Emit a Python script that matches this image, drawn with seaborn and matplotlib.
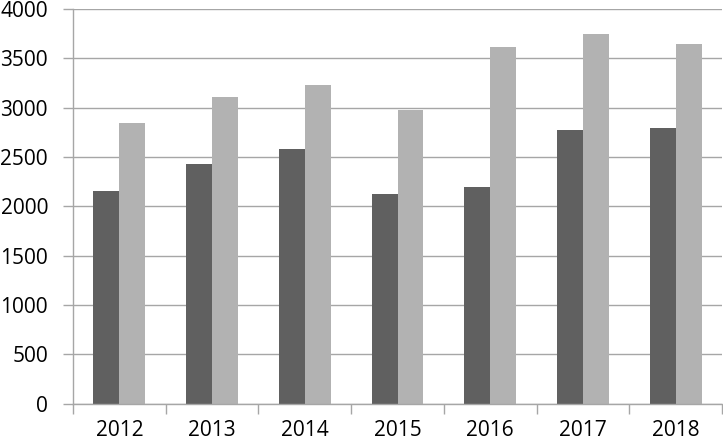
import matplotlib
matplotlib.use("Agg")
import matplotlib.pyplot as plt
import seaborn as sns
import pandas as pd
import numpy as np

years = ["2012", "2013", "2014", "2015", "2016", "2017", "2018"]
series_a = [2155, 2430, 2585, 2125, 2193, 2777, 2794]
series_b = [2848, 3111, 3230, 2976, 3615, 3743, 3648]
series_names = ["A", "B"]
yticks = [0, 500, 1000, 1500, 2000, 2500, 3000, 3500, 4000]

df = pd.DataFrame({
    "year": years * 2,
    "value": series_a + series_b,
    "series": [series_names[0]] * len(years) + [series_names[1]] * len(years),
})

sns.set_theme(style="white")
plt.rcParams["font.family"] = ["Open Sans", "DejaVu Sans"]

fig = plt.figure(figsize=(7.23, 4.43), dpi=100)
ax = fig.add_axes([73 / 723, 39.3 / 443, 649 / 723, 394.7 / 443])

grid_c = "#a6a6a6"
ax.set_axisbelow(True)
ax.yaxis.grid(True, color=grid_c, linewidth=1.0)

sns.barplot(data=df, x="year", y="value", hue="series", order=years,
            palette=["#606060", "#b2b2b2"], width=0.56, gap=0,
            saturation=1, ax=ax, legend=False, linewidth=0)

ax.set_xlim(-0.5, len(years) - 0.5)
ax.set_ylim(0, 4000)
ax.set_yticks(yticks)
ax.set_yticklabels([str(t) for t in yticks])
ax.set_xlabel("")
ax.set_ylabel("")

for s in ["top", "right"]:
    ax.spines[s].set_visible(False)
for s in ["left", "bottom"]:
    ax.spines[s].set_color(grid_c)
    ax.spines[s].set_linewidth(1.0)

ax.tick_params(axis="y", which="major", length=7, color=grid_c, width=1,
               labelsize=15, labelcolor="black", pad=11, left=True)
ax.tick_params(axis="x", which="major", length=0, labelsize=15,
               labelcolor="black", pad=12)
ax.set_xticks(np.arange(-0.5, len(years)), minor=True)
ax.tick_params(axis="x", which="minor", length=7, color=grid_c, width=1,
               bottom=True)

fig.savefig("out.png", dpi=100)
